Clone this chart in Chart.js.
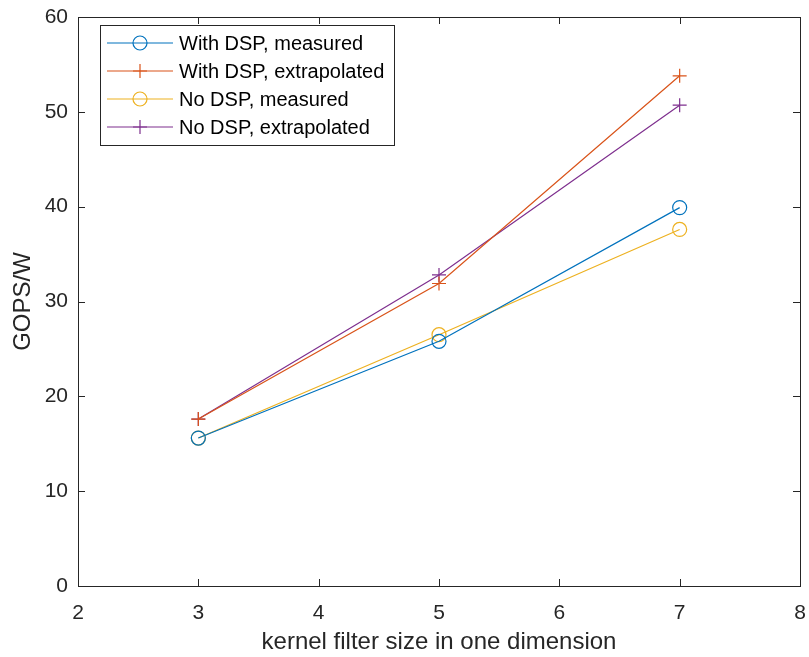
<!DOCTYPE html>
<html>
<head>
<meta charset="utf-8">
<script src="https://cdn.jsdelivr.net/npm/chart.js@4/dist/chart.umd.min.js"></script>
<style>
  html, body { margin: 0; padding: 0; background: #fff; }
  #wrap { width: 809px; height: 657px; }
</style>
</head>
<body>
<div id="wrap"><canvas id="c" width="809" height="657"></canvas></div>
<script>
// kernel sizes and GOPS/W per series
const kernelSizes = [3, 5, 7];
const withDspMeasured = [15.6, 25.8, 39.9];
const withDspExtrapolated = [17.6, 31.9, 53.8];
const noDspMeasured = [15.6, 26.5, 37.6];
const noDspExtrapolated = [17.6, 32.8, 50.7];
const xTicks = [2, 3, 4, 5, 6, 7, 8];
const yTicks = [0, 10, 20, 30, 40, 50, 60];

const seriesNames = ['With DSP, measured', 'With DSP, extrapolated', 'No DSP, measured', 'No DSP, extrapolated'];
const seriesColors = ['#0072BD', '#D95319', '#EDB120', '#7E2F8E'];
const seriesMarkers = ['circle', 'cross', 'circle', 'cross'];
const seriesValues = [withDspMeasured, withDspExtrapolated, noDspMeasured, noDspExtrapolated];

const FONT = 'Liberation Sans, Arial, Helvetica, sans-serif';
const INK = '#262626';

const datasets = seriesValues.map((vals, i) => ({
  label: seriesNames[i],
  data: kernelSizes.map((k, j) => ({ x: k, y: vals[j] })),
  borderColor: seriesColors[i],
  backgroundColor: 'rgba(0,0,0,0)',
  borderWidth: 1.2,
  pointStyle: seriesMarkers[i],
  pointRadius: 7,
  pointBorderWidth: 1.2,
  pointBorderColor: seriesColors[i],
  pointBackgroundColor: 'rgba(0,0,0,0)',
  tension: 0
}));

// box around the axes with inward ticks, MATLAB style
const boxPlugin = {
  id: 'boxPlugin',
  afterDatasetsDraw(chart) {
    const { ctx, chartArea: a, scales } = chart;
    ctx.save();
    ctx.strokeStyle = INK;
    ctx.lineWidth = 1;
    ctx.strokeRect(Math.round(a.left) + 0.5, Math.round(a.top) + 0.5,
      Math.round(a.right - a.left), Math.round(a.bottom - a.top));
    const tl = 7;
    ctx.beginPath();
    xTicks.forEach(v => {
      const px = Math.round(scales.x.getPixelForValue(v)) + 0.5;
      ctx.moveTo(px, a.bottom); ctx.lineTo(px, a.bottom - tl);
      ctx.moveTo(px, a.top); ctx.lineTo(px, a.top + tl);
    });
    yTicks.forEach(v => {
      const py = Math.round(scales.y.getPixelForValue(v)) + 0.5;
      ctx.moveTo(a.left, py); ctx.lineTo(a.left + tl, py);
      ctx.moveTo(a.right, py); ctx.lineTo(a.right - tl, py);
    });
    ctx.stroke();
    ctx.restore();
  }
};

// legend box in the upper left corner
const legendPlugin = {
  id: 'legendPlugin',
  afterDraw(chart) {
    const { ctx, chartArea: a } = chart;
    const bx = a.left + 22, by = 25, bw = 294, bh = 120;
    ctx.save();
    ctx.fillStyle = '#fff';
    ctx.fillRect(bx, by, bw, bh);
    ctx.strokeStyle = INK;
    ctx.lineWidth = 1;
    ctx.strokeRect(bx + 0.5, by + 0.5, bw, bh);
    chart.data.datasets.forEach((ds, i) => {
      const y = by + 18 + i * 28;
      ctx.strokeStyle = ds.borderColor;
      ctx.lineWidth = 1.2;
      ctx.beginPath();
      ctx.moveTo(bx + 7, y); ctx.lineTo(bx + 73, y);
      ctx.stroke();
      ctx.fillStyle = 'rgba(0,0,0,0)';
      Chart.helpers.drawPoint(ctx, {
        pointStyle: ds.pointStyle, radius: 7, borderWidth: 1.2
      }, bx + 40, y);
      ctx.fillStyle = '#000';
      ctx.font = '20px ' + FONT;
      ctx.textBaseline = 'middle';
      ctx.textAlign = 'left';
      ctx.fillText(ds.label, bx + 79, y + 1);
    });
    ctx.restore();
  }
};

new Chart(document.getElementById('c'), {
  type: 'line',
  data: { datasets },
  options: {
    responsive: false,
    animation: false,
    layout: { padding: { top: 17, right: 9, left: 0, bottom: 0 } },
    plugins: { legend: { display: false }, tooltip: { enabled: false } },
    scales: {
      x: {
        type: 'linear',
        min: 2, max: 8,
        afterFit(s) { s.height = 71; s.paddingLeft = 0; s.paddingRight = 0; },
        afterBuildTicks(s) { s.ticks = xTicks.map(v => ({ value: v })); },
        grid: { display: false, drawTicks: false },
        border: { display: false },
        ticks: { color: INK, font: { family: FONT, size: 21 }, padding: 15 },
        title: { display: true, text: 'kernel filter size in one dimension', color: INK,
          font: { family: FONT, size: 24 }, padding: { top: 0, bottom: 0 } }
      },
      y: {
        type: 'linear',
        min: 0, max: 60,
        afterFit(s) { s.width = 78; s.paddingTop = 0; s.paddingBottom = 0; },
        afterBuildTicks(s) { s.ticks = yTicks.map(v => ({ value: v })); },
        grid: { display: false, drawTicks: false },
        border: { display: false },
        ticks: { color: INK, font: { family: FONT, size: 21 }, padding: 10 },
        title: { display: true, text: 'GOPS/W', color: INK,
          font: { family: FONT, size: 24 }, padding: { top: 9, bottom: 0 } }
      }
    }
  },
  plugins: [boxPlugin, legendPlugin]
});
</script>
</body>
</html>
